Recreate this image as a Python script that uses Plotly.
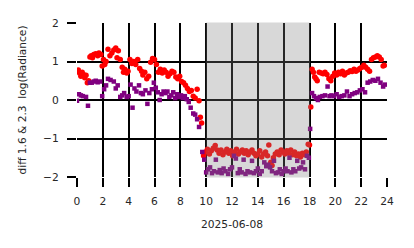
import plotly.graph_objects as go

# ---- data (hours of 2025-06-08) ----
red_x = [0.0, 0.1, 0.2, 0.3, 0.4, 0.5, 0.6, 0.7, 0.8, 0.9,
         1.0, 1.1, 1.2, 1.3, 1.45, 1.6, 1.7, 1.85, 1.95, 2.05,
         2.15, 2.25, 2.4, 2.55, 2.7, 2.85, 3.0, 3.1, 3.2, 3.35,
         3.5, 3.6, 3.7, 3.85, 3.95, 4.1, 4.25, 4.4, 4.55, 4.7,
         4.85, 5.0, 5.1, 5.25, 5.4, 5.55, 5.7, 5.85, 6.0, 6.15,
         6.3, 6.45, 6.6, 6.75, 6.9, 7.05, 7.2, 7.35, 7.5, 7.65,
         7.8, 7.95, 8.1, 8.25, 8.4, 8.55, 8.7, 8.85, 9.0, 9.15,
         9.3, 9.45, 9.55, 9.65,
         9.8, 9.95, 10.1, 10.25, 10.4, 10.55, 10.7, 10.85, 11.0, 11.15,
         11.3, 11.45, 11.6, 11.75, 11.9, 12.05, 12.2, 12.35, 12.5, 12.65,
         12.8, 12.95, 13.1, 13.25, 13.4, 13.55, 13.7, 13.85, 14.0, 14.15,
         14.3, 14.45, 14.6, 14.75, 14.85, 15.0, 15.1, 15.2, 15.35, 15.5,
         15.65, 15.8, 15.95, 16.1, 16.25, 16.4, 16.55, 16.7, 16.85, 17.0,
         17.15, 17.3, 17.45, 17.6, 17.75, 17.9,
         18.0, 18.1, 18.2, 18.3, 18.4, 18.5, 18.6, 18.75, 18.9, 19.05,
         19.2, 19.35, 19.5, 19.65, 19.8, 19.95, 20.1, 20.25, 20.4, 20.55,
         20.7, 20.85, 21.0, 21.15, 21.3, 21.45, 21.6, 21.75, 21.9, 22.05,
         22.2, 22.35, 22.5, 22.65, 22.8, 22.95, 23.1, 23.25, 23.4, 23.55,
         23.7, 23.8]
red_y = [0.75, 0.78, 0.70, 0.62, 0.72, 0.66, 0.58, 0.64, 0.45, 0.50,
         1.12, 1.15, 1.10, 1.18, 1.20, 1.15, 1.22, 1.18, 0.88, 1.05,
         0.92, 1.00, 1.32, 1.15, 1.22, 1.30, 1.35, 1.10, 1.28, 1.05,
         0.85, 0.72, 0.80, 0.70, 0.75, 1.05, 0.95, 1.00, 0.92, 1.05,
         0.82, 0.75, 0.65, 0.72, 0.55, 0.62, 0.98, 1.08, 1.05, 0.92,
         0.72, 0.80, 0.70, 0.78, 0.72, 0.62, 0.68, 0.75, 0.72, 0.60,
         0.55, 0.62, 0.48, 0.45, 0.38, 0.30, 0.22, 0.25, 0.10, 0.05,
         0.28, -0.02, -0.45, -0.60,
         -1.45, -1.35, -1.28, -1.40, -1.32, -1.25, -1.18, -1.30, -1.38, -1.30,
         -1.42, -1.35, -1.28, -1.38, -1.32, -1.45, -1.35, -1.28, -1.40, -1.35,
         -1.30, -1.38, -1.32, -1.42, -1.35, -1.30, -1.38, -1.45, -1.40, -1.32,
         -1.48, -1.40, -1.35, -1.45, -1.17, -1.62, -1.70, -1.50, -1.40, -1.35,
         -1.42, -1.30, -1.35, -1.40, -1.32, -1.38, -1.30, -1.42, -1.35, -1.45,
         -1.40, -1.48, -1.38, -1.42, -1.35, -1.15,
         -1.17, -0.18, 0.80, 0.72, 0.60, 0.55, 0.50, 0.72, 0.70, 0.68,
         0.72, 0.66, 0.55, 0.50, 0.62, 0.70, 0.65, 0.72, 0.68, 0.75,
         0.65, 0.70, 0.72, 0.76, 0.74, 0.80, 0.75, 0.78, 0.82, 0.85,
         0.90, 0.85, 0.80, 0.75, 1.05, 1.10, 1.12, 1.15, 1.12, 1.05,
         0.88, 0.90]

purple_x = [0.0, 0.15, 0.3, 0.45, 0.7, 0.85, 1.0, 1.15, 1.3, 1.45,
            1.6, 1.8, 1.95, 2.1, 2.25, 2.4, 2.6, 2.85, 3.0, 3.15,
            3.35, 3.5, 3.65, 3.85, 4.0, 4.15, 4.3, 4.45, 4.6, 4.8,
            4.95, 5.1, 5.3, 5.45, 5.6, 5.8, 5.95, 6.1, 6.25, 6.4,
            6.55, 6.7, 6.85, 7.0, 7.15, 7.3, 7.45, 7.6, 7.75, 7.9,
            8.05, 8.2, 8.35, 8.5, 8.65, 8.8, 9.0, 9.15, 9.3, 9.45,
            9.7,
            9.85, 10.0, 10.15, 10.3, 10.45, 10.6, 10.75, 10.9, 11.05, 11.2,
            11.35, 11.5, 11.7, 11.85, 12.0, 12.15, 12.3, 12.45, 12.6, 12.75,
            12.9, 13.05, 13.2, 13.4, 13.55, 13.7, 13.85, 14.0, 14.15, 14.3,
            14.5, 14.65, 14.8, 14.95, 15.1, 15.25, 15.4, 15.55, 15.7, 15.85,
            16.0, 16.15, 16.3, 16.45, 16.6, 16.75, 16.9, 17.05, 17.2, 17.35,
            17.5, 17.65, 17.8, 17.95,
            18.05, 18.2, 18.35, 18.5, 18.65, 18.8, 19.0, 19.2, 19.4, 19.55,
            19.7, 19.9, 20.1, 20.3, 20.5, 20.7, 20.9, 21.1, 21.3, 21.5,
            21.7, 21.9, 22.1, 22.3, 22.5, 22.7, 22.9, 23.1, 23.3, 23.5,
            23.7, 23.85]
purple_y = [-0.02, 0.15, 0.12, 0.10, 0.08, -0.15, 0.45, 0.45, 0.48, 0.50,
            0.46, 0.48, 0.10, 0.28, 0.38, 0.55, 0.52, 0.48, 0.30, 0.38,
            0.08, 0.12, 0.18, 0.08, 0.10, 0.40, -0.20, 0.30, 0.22, 0.38,
            0.18, 0.15, 0.25, -0.10, 0.18, 0.28, 0.45, 0.32, 0.20, 0.00,
            0.15, 0.22, 0.18, 0.22, 0.08, 0.12, 0.20, 0.05, 0.15, 0.08,
            0.12, 0.05, 0.10, 0.02, -0.05, -0.20, -0.35, -0.38, -0.50, -0.70,
            -1.35,
            -1.55, -1.88, -1.80, -1.75, -1.90, -1.85, -1.55, -1.88, -1.82, -1.90,
            -1.78, -1.85, -1.92, -1.80, -1.75, -1.45, -1.52, -1.90, -1.80, -1.88,
            -1.55, -1.92, -1.85, -1.88, -1.58, -1.90, -1.85, -1.78, -1.92, -1.85,
            -1.62, -1.72, -1.68, -1.75, -1.85, -1.58, -1.90, -1.88, -1.80, -1.92,
            -1.85, -1.78, -1.85, -1.50, -1.88, -1.80, -1.85, -1.58, -1.78, -1.75,
            -1.62, -1.80, -1.45, -1.50,
            -0.75, 0.18, 0.10, 0.05, 0.00, 0.08, 0.10, 0.12, 0.35, 0.10,
            0.12, 0.10, 0.15, 0.08, 0.10, 0.12, 0.22, 0.10, 0.15, 0.18,
            0.20, 0.25, 0.28, 0.20, 0.45, 0.48, 0.52, 0.50, 0.55, 0.45,
            0.35, 0.40]

night_start = 10
night_end = 18
x_ticks = [0, 2, 4, 6, 8, 10, 12, 14, 16, 18, 20, 22, 24]
y_ticks = [-2, -1, 0, 1, 2]
date_label = "2025-06-08"
y_label = "diff 1.6 & 2.3\u00a0 log(Radiance)"

FONT = "DejaVu Sans"

fig = go.Figure()
fig.add_trace(go.Scatter(x=red_x, y=red_y, mode="markers",
                         marker=dict(color="red", size=5.5, symbol="circle",
                                     line=dict(width=0)),
                         showlegend=False))
fig.add_trace(go.Scatter(x=purple_x, y=purple_y, mode="markers",
                         marker=dict(color="purple", size=4.5, symbol="square",
                                     line=dict(width=0)),
                         showlegend=False))

fig.add_shape(type="rect", xref="x", yref="paper",
              x0=night_start, x1=night_end, y0=0, y1=1,
              fillcolor="grey", opacity=0.3, layer="above",
              line=dict(color="grey", width=1))

axis_common = dict(showgrid=True, gridcolor="black", gridwidth=2,
                   zeroline=False, showline=False,
                   ticks="outside", ticklen=9, tickwidth=2, tickcolor="black",
                   tickfont=dict(family=FONT, size=10.7, color="#262626"))

fig.update_xaxes(range=[0, 24], tickvals=x_ticks,
                 ticktext=[str(v) for v in x_ticks],
                 ticklabelstandoff=5,
                 title=dict(text=date_label, font=dict(family=FONT, size=10.7, color="#262626"),
                            standoff=13),
                 **axis_common)
fig.update_yaxes(range=[-2, 2], tickvals=y_ticks,
                 ticklabelstandoff=6,
                 title=dict(text=y_label, font=dict(family=FONT, size=10.6, color="#262626"),
                            standoff=14),
                 **axis_common)

fig.update_layout(width=414, height=248,
                  margin=dict(l=77, r=27, t=23, b=71, autoexpand=False),
                  paper_bgcolor="white", plot_bgcolor="white",
                  font=dict(family=FONT))

fig.write_html("out.html")
